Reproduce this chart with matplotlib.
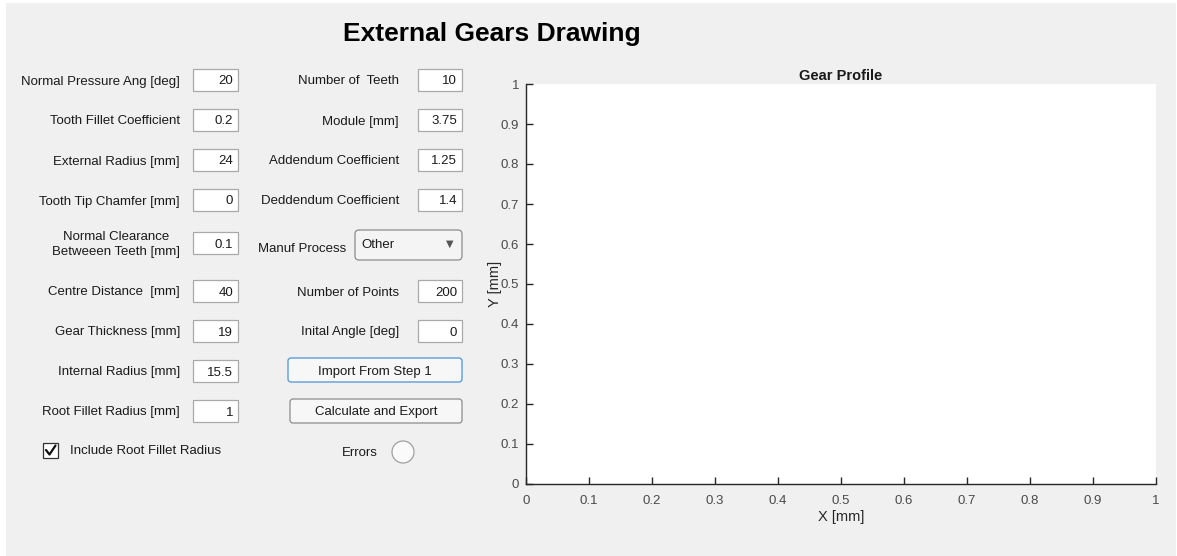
import matplotlib.pyplot as plt
from matplotlib.patches import Rectangle, FancyBboxPatch, Circle
from matplotlib.ticker import FuncFormatter

plt.rcParams['font.family'] = ['Liberation Sans', 'DejaVu Sans']

# app contents
app_title = "External Gears Drawing"
left_labels = ["Normal Pressure Ang [deg]", "Tooth Fillet Coefficient", "External Radius [mm]",
               "Tooth Tip Chamfer [mm]", "Normal Clearance\nBetweeen Teeth [mm]", "Centre Distance  [mm]",
               "Gear Thickness [mm]", "Internal Radius [mm]", "Root Fillet Radius [mm]"]
left_values = ["20", "0.2", "24", "0", "0.1", "40", "19", "15.5", "1"]
right_labels = ["Number of  Teeth", "Module [mm]", "Addendum Coefficient", "Deddendum Coefficient",
                "Manuf Process", "Number of Points", "Inital Angle [deg]"]
right_values = ["10", "3.75", "1.25", "1.4", "Other", "200", "0"]
buttons = ["Import From Step 1", "Calculate and Export"]
checkbox_label = "Include Root Fillet Radius"
lamp_label = "Errors"

plot_title = "Gear Profile"
x_ticks = [0, 0.1, 0.2, 0.3, 0.4, 0.5, 0.6, 0.7, 0.8, 0.9, 1]
y_ticks = [0, 0.1, 0.2, 0.3, 0.4, 0.5, 0.6, 0.7, 0.8, 0.9, 1]

W, H = 1177, 556
bg = '#f0f0f0'
txt = '#1a1a1a'
fig = plt.figure(figsize=(W / 100, H / 100), dpi=100)
fig.patch.set_facecolor('white')

# overlay in pixel coordinates for the UI widgets
ui = fig.add_axes([0, 0, 1, 1])
ui.set_xlim(0, W)
ui.set_ylim(H, 0)
ui.axis('off')
ui.add_patch(Rectangle((6, 3), W - 7, H - 3, facecolor=bg, edgecolor='none'))

ui.text(492, 34, app_title, ha='center', va='center', fontsize=19, fontweight='bold', color='black')

rows_y = [80, 120, 160, 200, 243, 291, 331, 371, 411]
fs = 9.5
dy = 1.5  # text sits a little low in the app

def value_box(x0, x1, yc, val):
    ui.add_patch(Rectangle((x0, yc - 11), x1 - x0, 22, facecolor='white', edgecolor='#a9a9a9', lw=0.9))
    ui.text(x1 - 5, yc + dy, val, ha='right', va='center', fontsize=fs, color=txt)

for lab, val, yc in zip(left_labels, left_values, rows_y):
    ui.text(180, yc + dy, lab, ha='right', va='center', fontsize=fs, color=txt, multialignment='center',
            linespacing=1.4)
    value_box(193, 238, yc, val)

for lab, val, yc in zip(right_labels, right_values, rows_y[:7]):
    if lab == "Manuf Process":
        ui.text(346, yc + 4 + dy, lab, ha='right', va='center', fontsize=fs, color=txt)
        ui.add_patch(FancyBboxPatch((355, yc - 13), 107, 30, boxstyle='round,pad=0,rounding_size=4',
                                    facecolor='#f4f4f4', edgecolor='#8c8c8c', lw=0.9))
        ui.text(361, yc + dy, val, ha='left', va='center', fontsize=fs, color=txt)
        ui.text(450, yc + 1, '\u25bc', ha='center', va='center', fontsize=7, color='#555555',
                family='DejaVu Sans')
    else:
        ui.text(399, yc + dy, lab, ha='right', va='center', fontsize=fs, color=txt)
        value_box(418, 462, yc, val)

# buttons
for lab, (x0, yc, ec) in zip(buttons, [(288, 370, '#4d94d6'), (290, 411, '#8c8c8c')]):
    ui.add_patch(FancyBboxPatch((x0, yc - 12), 462 - x0, 24, boxstyle='round,pad=0,rounding_size=3',
                                facecolor='#f7f7f7', edgecolor=ec, lw=0.9))
    ui.text((x0 + 462) / 2, yc + dy, lab, ha='center', va='center', fontsize=fs, color=txt)

# checkbox
ui.add_patch(Rectangle((43, 443), 15, 15, facecolor='white', edgecolor='#333333', lw=0.9))
ui.plot([46, 49.5, 55.5], [450, 454.5, 445.5], color='#111111', lw=1.6, solid_capstyle='round')
ui.text(70, 450 + dy, checkbox_label, ha='left', va='center', fontsize=fs, color=txt)

# lamp
ui.text(378, 451 + dy, lamp_label, ha='right', va='center', fontsize=fs, color=txt)
ui.add_patch(Circle((403, 452), 11, facecolor='#fafafa', edgecolor='#a0a0a0', lw=0.9))

# plot area
ax = fig.add_axes([526 / W, (H - 484) / H, 630 / W, 400 / H])
ax.set_facecolor('white')
ax.set_xlim(0, 1)
ax.set_ylim(0, 1)
ax.set_xticks(x_ticks)
ax.set_yticks(y_ticks)
fmt = FuncFormatter(lambda v, p: '%g' % v)
ax.xaxis.set_major_formatter(fmt)
ax.yaxis.set_major_formatter(fmt)
for s in ['top', 'right']:
    ax.spines[s].set_visible(False)
for s in ['left', 'bottom']:
    ax.spines[s].set_color('#262626')
    ax.spines[s].set_linewidth(1.0)
ax.tick_params(direction='in', length=5, width=1.0, color='#262626', labelcolor='#4a4a4a',
               labelsize=9.5)
ax.tick_params(axis='x', pad=8)
ax.tick_params(axis='y', pad=5)
ax.set_xlabel('X [mm]', fontsize=10.5, color='#262626', labelpad=2)
ax.set_ylabel('Y [mm]', fontsize=10.5, color='#262626', labelpad=-1)
ax.set_title(plot_title, fontsize=10.5, fontweight='bold', color='#1a1a1a', pad=3)

fig.savefig('out.png', dpi=100, facecolor=fig.get_facecolor())
